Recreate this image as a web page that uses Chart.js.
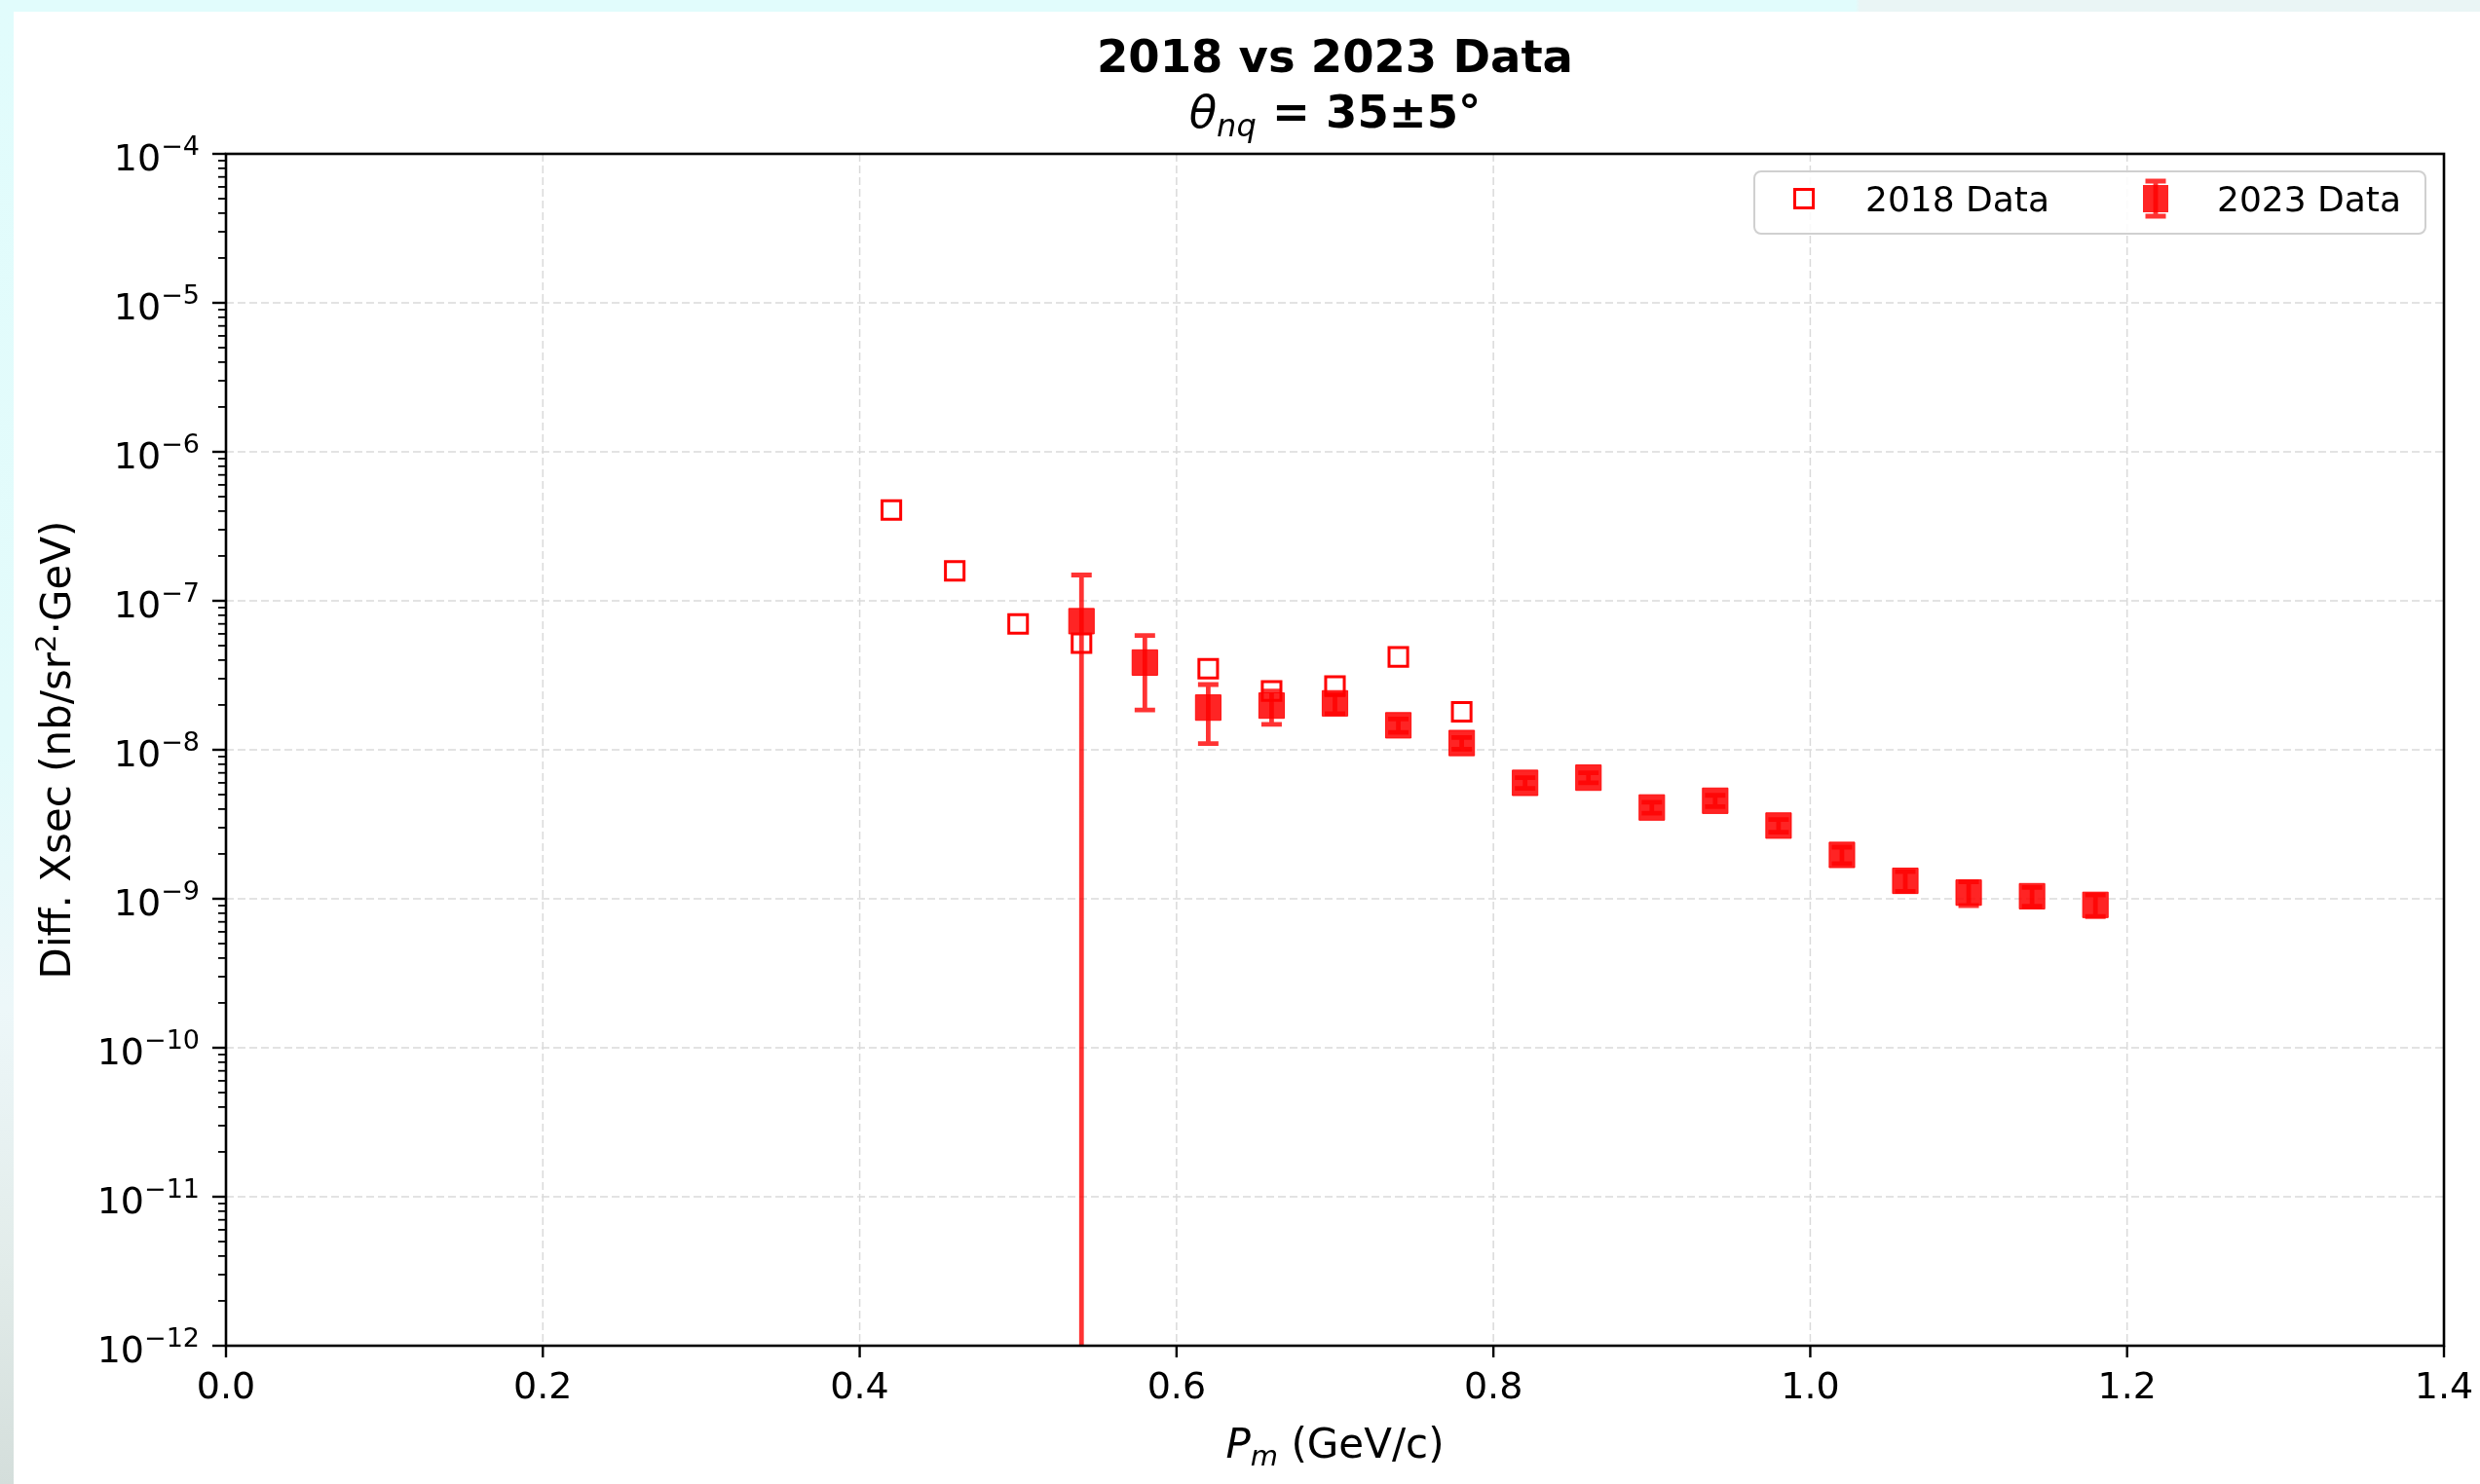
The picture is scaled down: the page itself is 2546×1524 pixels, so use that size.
<!DOCTYPE html>
<html>
<head>
<meta charset="utf-8">
<title>2018 vs 2023 Data</title>
<script src="https://cdn.jsdelivr.net/npm/chart.js@4.4.1/dist/chart.umd.min.js"></script>
<style>
  html, body { margin: 0; padding: 0; width: 2546px; height: 1524px; overflow: hidden; background: #ffffff; }
  #bandTop { position: absolute; left: 0; top: 0; width: 2546px; height: 12px;
    background: linear-gradient(90deg, #e1fcfc 0px, #e1fcfc 1905px, #eaf5f5 1909px, #eaf5f5 2546px); }
  #bandLeft { position: absolute; left: 0; top: 0; width: 14px; height: 1524px;
    background: linear-gradient(180deg, #e1fcfc 0%, #e3fbfb 50%, #edf7f9 68%, #e2ecea 85%, #d4dedb 100%); }
  #wrap { position: absolute; left: 14px; top: 12px; width: 2532px; height: 1512px; background: #ffffff; }
  canvas { display: block; }
</style>
</head>
<body>
<div id="bandTop"></div>
<div id="bandLeft"></div>
<div id="wrap"><canvas id="chart" width="2532" height="1512"></canvas></div>
<script>
// Missing momentum (GeV/c) and differential cross sections (nb/sr^2/GeV)
const pm2018 = [0.42, 0.46, 0.50, 0.54, 0.62, 0.66, 0.70, 0.74, 0.78];
const xsec2018 = [4.07e-7, 1.59e-7, 7.0e-8, 5.2e-8, 3.5e-8, 2.48e-8, 2.68e-8, 4.2e-8, 1.8e-8];

const pm2023 = [0.54, 0.58, 0.62, 0.66, 0.70, 0.74, 0.78, 0.82, 0.86, 0.90, 0.94, 0.98, 1.02, 1.06, 1.10, 1.14, 1.18];
const xsec2023 = [7.3e-8, 3.85e-8, 1.92e-8, 1.98e-8, 2.05e-8, 1.46e-8, 1.11e-8, 6.0e-9, 6.5e-9, 4.1e-9, 4.55e-9, 3.1e-9, 1.97e-9, 1.32e-9, 1.1e-9, 1.04e-9, 9.1e-10];
const err2023 = [7.6e-8, 2.0e-8, 0.82e-8, 0.5e-8, 0.3e-8, 0.15e-8, 0.1e-8, 0.5e-9, 0.5e-9, 0.35e-9, 0.4e-9, 0.3e-9, 0.25e-9, 0.2e-9, 0.2e-9, 0.15e-9, 0.15e-9];

// Axis ticks
const xTicks = [0.0, 0.2, 0.4, 0.6, 0.8, 1.0, 1.2, 1.4];
const yDecades = [-12, -11, -10, -9, -8, -7, -6, -5, -4];

const seriesNames = ['2018 Data', '2023 Data'];
const titleLine1 = '2018 vs 2023 Data';

const FONT = '"DejaVu Sans", "Liberation Sans", sans-serif';
const RED = '#ff0000';
const RED_FILL = 'rgba(255,0,0,0.86)';
const RED_BAR = 'rgba(255,0,0,0.8)';

// Draw a sequence of text runs (different fonts / baseline shifts) centred on cx
function drawRuns(ctx, runs, cx, baseline, align) {
  let total = 0;
  runs.forEach(r => { ctx.font = r.font; r.w = ctx.measureText(r.text).width; total += r.w; });
  let x = align === 'right' ? cx - total : cx - total / 2;
  ctx.textAlign = 'left';
  ctx.textBaseline = 'alphabetic';
  runs.forEach(r => { ctx.font = r.font; ctx.fillText(r.text, x, baseline + (r.dy || 0)); x += r.w; });
}

function minorValues() {
  const out = [];
  for (let i = 0; i < yDecades.length - 1; i++) {
    for (let m = 2; m <= 9; m++) out.push(m * Math.pow(10, yDecades[i]));
  }
  return out;
}

// Dashed grid lines under the data
const gridPlugin = {
  id: 'gridPlugin',
  beforeDatasetsDraw(chart) {
    const { ctx, chartArea: a, scales: { x, y } } = chart;
    ctx.save();
    ctx.strokeStyle = '#dadada';
    ctx.lineWidth = 1.5;
    ctx.setLineDash([8, 4]);
    xTicks.forEach(v => {
      const px = x.getPixelForValue(v);
      ctx.beginPath(); ctx.moveTo(px, a.top); ctx.lineTo(px, a.bottom); ctx.stroke();
    });
    yDecades.forEach(e => {
      const py = y.getPixelForValue(Math.pow(10, e));
      ctx.beginPath(); ctx.moveTo(a.left, py); ctx.lineTo(a.right, py); ctx.stroke();
    });
    ctx.restore();
  }
};

// Vertical error bars with caps
const errorBarPlugin = {
  id: 'errorBarPlugin',
  beforeDatasetsDraw(chart) {
    const { ctx, chartArea: a, scales: { x, y } } = chart;
    ctx.save();
    ctx.beginPath(); ctx.rect(a.left, a.top, a.width, a.height); ctx.clip();
    chart.data.datasets.forEach(ds => {
      if (!ds.yErr) return;
      ctx.strokeStyle = ds.barColor;
      ctx.lineWidth = 4.8;
      ctx.beginPath();
      ds.data.forEach((p, i) => {
        const e = ds.yErr[i];
        const px = x.getPixelForValue(p.x);
        const hi = y.getPixelForValue(p.y + e);
        const lowVal = p.y - e;
        const lo = lowVal > 0 ? y.getPixelForValue(lowVal) : a.bottom + 20;
        ctx.moveTo(px, hi); ctx.lineTo(px, lo);
        ctx.moveTo(px - 10.5, hi); ctx.lineTo(px + 10.5, hi);
        if (lowVal > 0) { ctx.moveTo(px - 10.5, lo); ctx.lineTo(px + 10.5, lo); }
      });
      ctx.stroke();
    });
    ctx.restore();
  }
};

// Frame, tick marks, tick labels, axis titles, title and legend
const decorPlugin = {
  id: 'decorPlugin',
  afterDraw(chart) {
    const { ctx, chartArea: a, scales: { x, y } } = chart;
    ctx.save();
    ctx.fillStyle = '#000';
    ctx.strokeStyle = '#000';
    ctx.setLineDash([]);

    // axes frame
    ctx.lineWidth = 2.6;
    ctx.strokeRect(a.left, a.top, a.right - a.left, a.bottom - a.top);

    // x ticks and labels
    ctx.lineWidth = 2.4;
    xTicks.forEach(v => {
      const px = x.getPixelForValue(v);
      ctx.beginPath(); ctx.moveTo(px, a.bottom); ctx.lineTo(px, a.bottom + 12); ctx.stroke();
      ctx.font = '38px ' + FONT;
      ctx.textAlign = 'center';
      ctx.textBaseline = 'alphabetic';
      ctx.fillText(v.toFixed(1), px, a.bottom + 54);
    });

    // y major ticks and labels
    yDecades.forEach(e => {
      const py = y.getPixelForValue(Math.pow(10, e));
      ctx.lineWidth = 2.4;
      ctx.beginPath(); ctx.moveTo(a.left - 14, py); ctx.lineTo(a.left, py); ctx.stroke();
      drawRuns(ctx, [
        { text: '10', font: '38px ' + FONT },
        { text: '\u2212' + Math.abs(e), font: '27px ' + FONT, dy: -16 }
      ], a.left - 27, py + 17, 'right');
    });
    // y minor ticks
    ctx.lineWidth = 1.8;
    minorValues().forEach(v => {
      const py = y.getPixelForValue(v);
      ctx.beginPath(); ctx.moveTo(a.left - 8, py); ctx.lineTo(a.left, py); ctx.stroke();
    });

    const cx = (a.left + a.right) / 2;

    // x axis title: P_m (GeV/c)
    drawRuns(ctx, [
      { text: 'P', font: 'italic 42px ' + FONT },
      { text: 'm', font: 'italic 29px ' + FONT, dy: 8 },
      { text: ' (GeV/c)', font: '42px ' + FONT }
    ], cx, a.bottom + 115);

    // y axis title
    ctx.save();
    ctx.translate(58, (a.top + a.bottom) / 2);
    ctx.rotate(-Math.PI / 2);
    drawRuns(ctx, [
      { text: 'Diff. Xsec (nb/sr', font: '42px ' + FONT },
      { text: '2', font: '29px ' + FONT, dy: -15 },
      { text: '\u00b7GeV)', font: '42px ' + FONT }
    ], 0, 0);
    ctx.restore();

    // title
    drawRuns(ctx, [{ text: titleLine1, font: 'bold 46.5px ' + FONT }], cx, 62);
    drawRuns(ctx, [
      { text: '\u03b8', font: 'italic 46.5px ' + FONT },
      { text: 'nq', font: 'italic 32px ' + FONT, dy: 9 },
      { text: ' = 35\u00b15\u00b0', font: 'bold 46.5px ' + FONT }
    ], cx, 119);

    // legend
    const lw = 689, lh = 64;
    const lx = a.right - 19 - lw, ly = a.top + 18;
    ctx.fillStyle = 'rgba(255,255,255,0.85)';
    ctx.strokeStyle = '#d0d0d0';
    ctx.lineWidth = 2;
    ctx.beginPath();
    ctx.roundRect(lx, ly, lw, lh, 7);
    ctx.fill(); ctx.stroke();

    const my = ly + lh / 2 - 4;
    // 2018 sample: open square
    ctx.strokeStyle = RED; ctx.lineWidth = 3;
    ctx.strokeRect(lx + 51 - 9.5, my - 9.5, 19, 19);
    // 2023 sample: filled square with error bar
    const fx = lx + 412;
    ctx.strokeStyle = RED_BAR; ctx.lineWidth = 4.8;
    ctx.beginPath();
    ctx.moveTo(fx, my - 18); ctx.lineTo(fx, my + 18);
    ctx.moveTo(fx - 10.5, my - 18); ctx.lineTo(fx + 10.5, my - 18);
    ctx.moveTo(fx - 10.5, my + 18); ctx.lineTo(fx + 10.5, my + 18);
    ctx.stroke();
    ctx.fillStyle = RED_FILL;
    ctx.fillRect(fx - 13, my - 14, 26, 28);

    ctx.fillStyle = '#000';
    ctx.font = '36px ' + FONT;
    ctx.textAlign = 'left';
    ctx.textBaseline = 'alphabetic';
    ctx.fillText(seriesNames[0], lx + 114, my + 13);
    ctx.fillText(seriesNames[1], lx + 475, my + 13);

    ctx.restore();
  }
};

const chart = new Chart(document.getElementById('chart'), {
  type: 'scatter',
  data: {
    datasets: [
      {
        label: seriesNames[0],
        data: pm2018.map((v, i) => ({ x: v, y: xsec2018[i] })),
        pointStyle: 'rect',
        pointRadius: 13.5,
        pointHoverRadius: 13.5,
        borderWidth: 3,
        borderColor: RED,
        backgroundColor: 'rgba(255,255,255,0)',
        showLine: false,
        order: 2
      },
      {
        label: seriesNames[1],
        data: pm2023.map((v, i) => ({ x: v, y: xsec2023[i] })),
        yErr: err2023,
        barColor: RED_BAR,
        pointStyle: 'rect',
        pointRadius: 18.5,
        pointHoverRadius: 18.5,
        borderWidth: 1,
        borderColor: RED_FILL,
        backgroundColor: RED_FILL,
        showLine: false,
        order: 1
      }
    ]
  },
  options: {
    responsive: false,
    animation: false,
    devicePixelRatio: 1,
    layout: { padding: { left: 0, top: 146, right: 37, bottom: 0 } },
    plugins: {
      legend: { display: false },
      title: { display: false },
      tooltip: { enabled: false }
    },
    scales: {
      x: {
        type: 'linear',
        min: 0,
        max: 1.4,
        afterBuildTicks: s => { s.ticks = xTicks.map(v => ({ value: v })); },
        afterFit: s => { s.height = 142; },
        ticks: { display: false },
        grid: { display: false },
        border: { display: false }
      },
      y: {
        type: 'logarithmic',
        min: 1e-12,
        max: 1e-4,
        afterBuildTicks: s => { s.ticks = yDecades.map(e => ({ value: Math.pow(10, e), major: true })); },
        afterFit: s => { s.width = 218; },
        ticks: { display: false },
        grid: { display: false },
        border: { display: false }
      }
    }
  },
  plugins: [gridPlugin, errorBarPlugin, decorPlugin]
});
</script>
</body>
</html>
